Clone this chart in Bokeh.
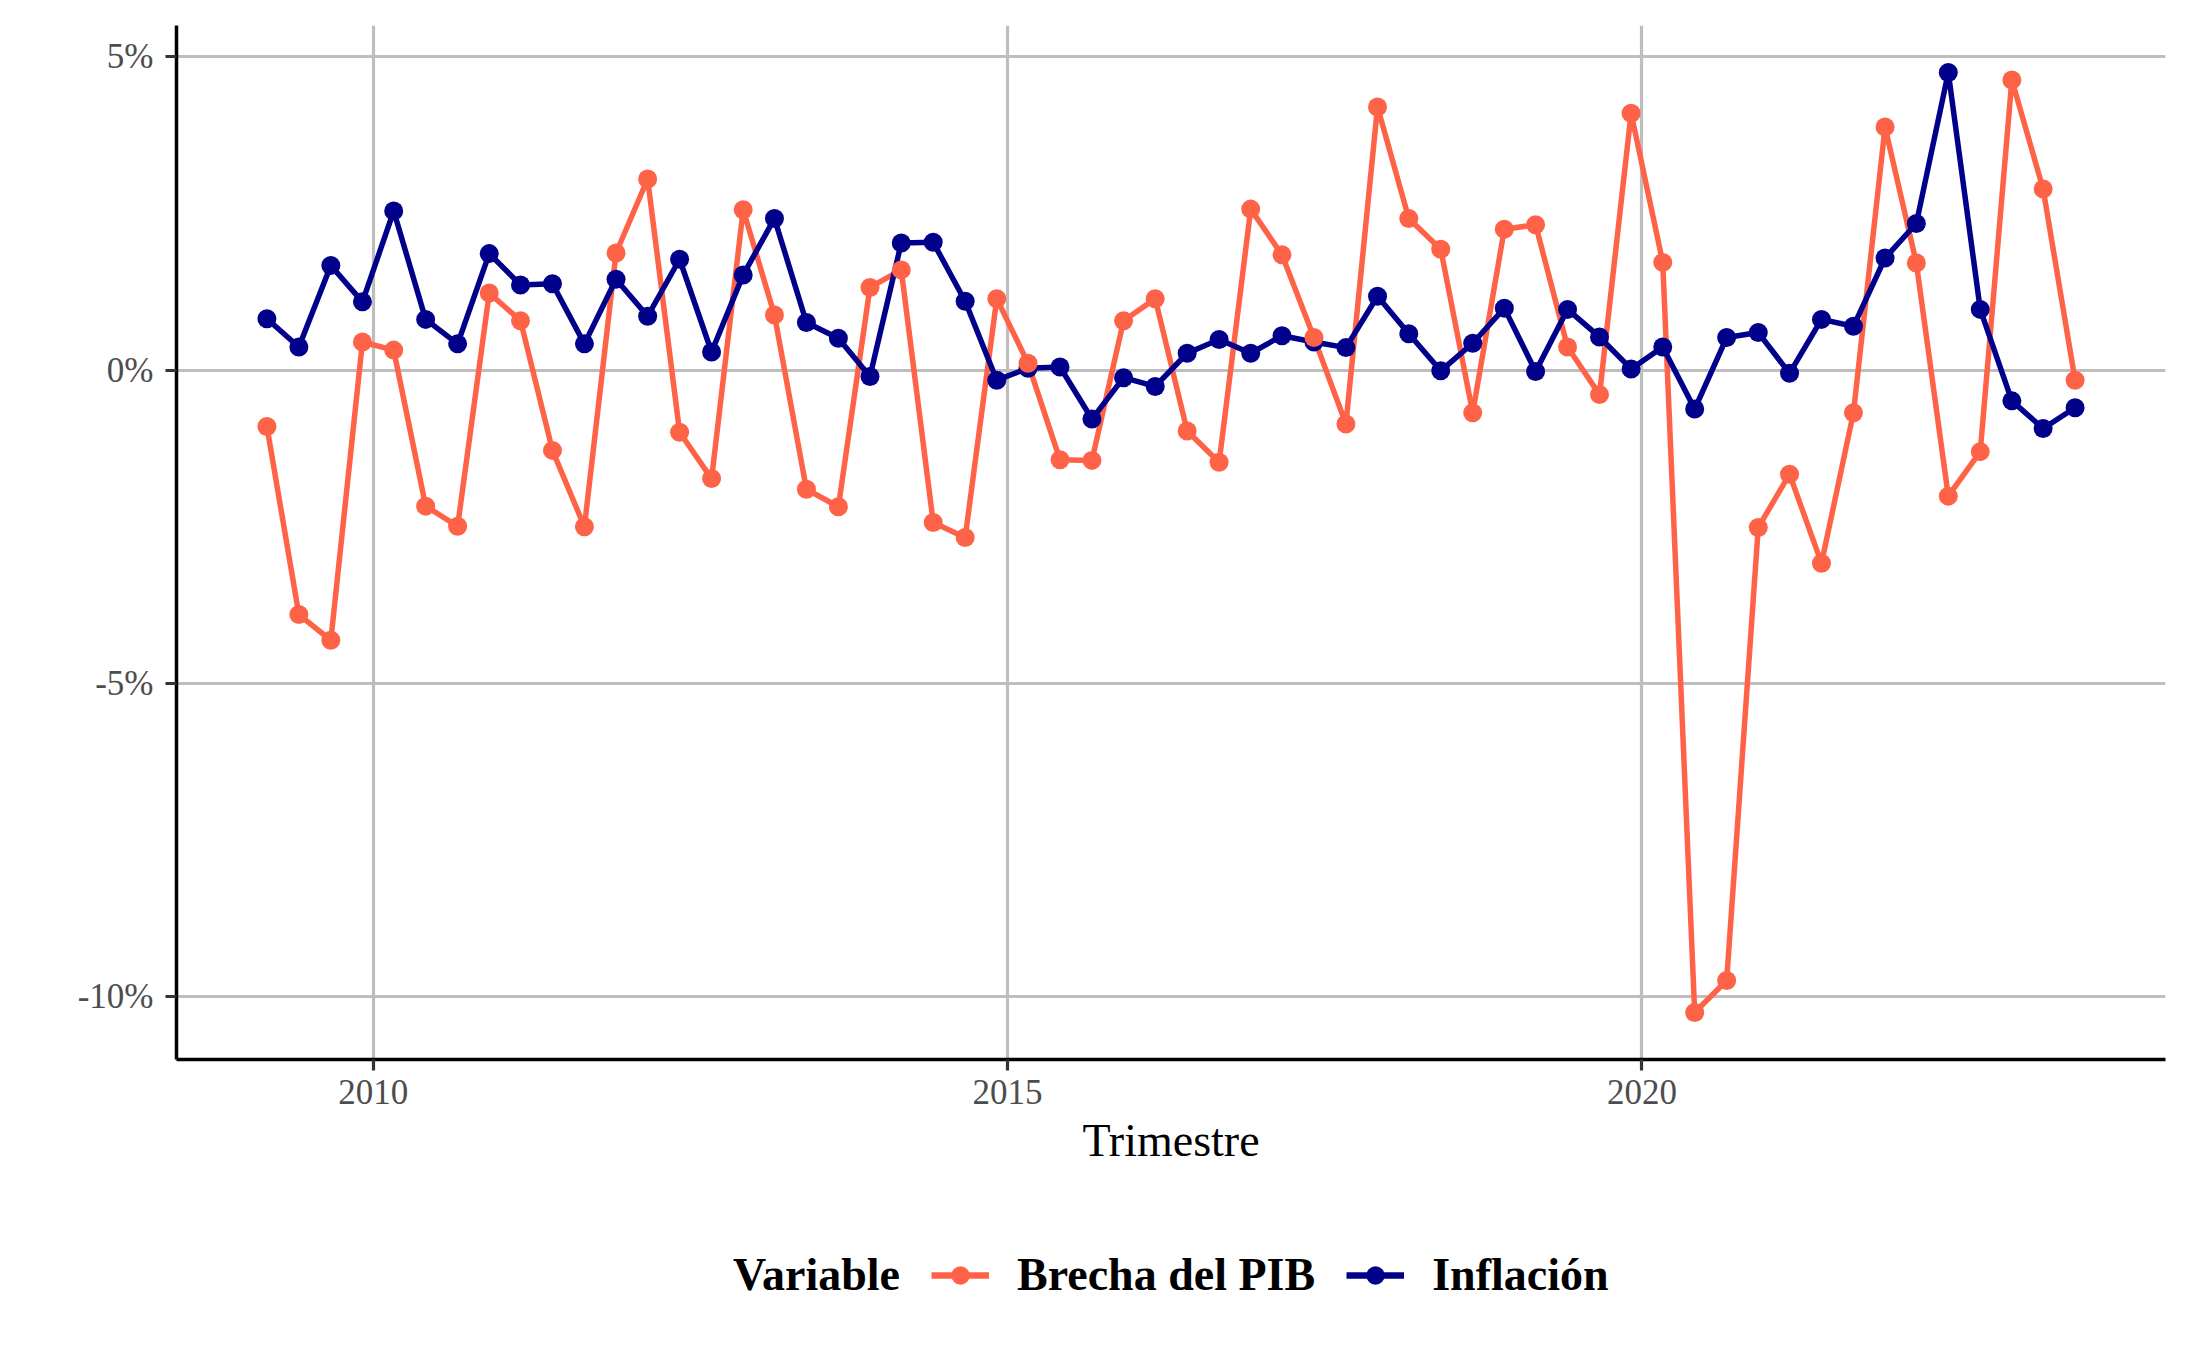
import pandas as pd
from bokeh.plotting import figure
from bokeh.layouts import column
from bokeh.models import (ColumnDataSource, Range1d, FixedTicker, DatetimeTickFormatter,
                          PrintfTickFormatter, Legend, LegendItem)
from bokeh.embed import file_html
from bokeh.resources import INLINE

# ---------------- data ----------------
trimestres = pd.date_range("2009-03-01", "2023-06-01", freq="3MS")
brecha_pib = [-0.90, -3.90, -4.31, 0.45, 0.32, -2.17, -2.49, 1.23, 0.79, -1.28,
              -2.50, 1.87, 3.05, -0.99, -1.73, 2.56, 0.88, -1.90, -2.18, 1.32,
              1.60, -2.43, -2.67, 1.14, 0.11, -1.43, -1.44, 0.79, 1.14, -0.97,
              -1.47, 2.57, 1.84, 0.52, -0.86, 4.20, 2.42, 1.93, -0.68, 2.25,
              2.32, 0.37, -0.39, 4.10, 1.72, -10.25, -9.74, -2.51, -1.66, -3.08,
              -0.68, 3.88, 1.71, -2.01, -1.30, 4.63, 2.89, -0.16]
inflacion = [0.82, 0.37, 1.67, 1.09, 2.54, 0.81, 0.42, 1.86, 1.36, 1.38,
             0.42, 1.45, 0.86, 1.77, 0.29, 1.52, 2.42, 0.76, 0.51, -0.10,
             2.03, 2.04, 1.10, -0.16, 0.03, 0.05, -0.78, -0.12, -0.26, 0.27,
             0.49, 0.27, 0.55, 0.45, 0.36, 1.18, 0.58, -0.01, 0.43, 0.99,
             -0.02, 0.97, 0.53, 0.02, 0.37, -0.62, 0.52, 0.60, -0.05, 0.81,
             0.70, 1.79, 2.34, 4.75, 0.97, -0.49, -0.93, -0.60]
legend_title = "Variable"
series_names = ["Brecha del PIB", "Inflación"]
series_colors = ["#FF6347", "#00008B"]
x_tick_years = [2010, 2015, 2020]
y_ticks = [-10, -5, 0, 5]

src = ColumnDataSource(dict(x=trimestres, brecha=brecha_pib, infl=inflacion))

# ranges with ggplot-like 5% expansion
xmin, xmax = trimestres.min(), trimestres.max()
xpad = (xmax - xmin) * 0.05
allv = brecha_pib + inflacion
ymin, ymax = min(allv), max(allv)
ypad = (ymax - ymin) * 0.05

FONT = "Liberation Serif"
LW = 5.5
PS = 19

p = figure(width=2171, height=1230, output_backend="svg", toolbar_location=None,
           x_axis_type="datetime",
           x_range=Range1d(xmin - xpad, xmax + xpad),
           y_range=Range1d(ymin - ypad, ymax + ypad),
           min_border_left=176, min_border_right=6, min_border_top=25,
           min_border_bottom=171)
p.outline_line_color = None
p.background_fill_color = "white"
p.border_fill_color = "white"

xticks_ms = [pd.Timestamp(f"{y}-01-01").value / 1e6 for y in x_tick_years]

# grid
p.xgrid.ticker = FixedTicker(ticks=xticks_ms)
p.ygrid.ticker = FixedTicker(ticks=y_ticks)
for g in (p.xgrid, p.ygrid):
    g.grid_line_color = "#bebebe"
    g.grid_line_width = 3.2

# axes
p.xaxis.ticker = FixedTicker(ticks=xticks_ms)
p.xaxis.formatter = DatetimeTickFormatter(years="%Y", months="%Y", days="%Y", hours="%Y",
                                          minutes="%Y", seconds="%Y", milliseconds="%Y",
                                          microseconds="%Y", hourmin="%Y", minsec="%Y")
p.yaxis.ticker = FixedTicker(ticks=y_ticks)
p.yaxis.formatter = PrintfTickFormatter(format="%d%%")
p.xaxis.axis_label = "Trimestre"
for ax in (p.xaxis, p.yaxis):
    ax.axis_line_color = "black"
    ax.axis_line_width = 3.5
    ax.major_tick_line_color = "#333333"
    ax.major_tick_line_width = 3.2
    ax.major_tick_out = 11
    ax.major_tick_in = 0
    ax.minor_tick_line_color = None
    ax.major_label_text_font = FONT
    ax.major_label_text_font_size = "35px"
    ax.major_label_text_color = "#4d4d4d"
    ax.axis_label_text_font = FONT
    ax.axis_label_text_font_size = "46px"
    ax.axis_label_text_font_style = "normal"
    ax.axis_label_text_color = "black"
    ax.axis_label_standoff = 8
p.yaxis.major_label_standoff = 12
p.xaxis.major_label_standoff = 9

# lines first, then points
p.line("x", "brecha", source=src, line_color=series_colors[0], line_width=LW)
p.line("x", "infl", source=src, line_color=series_colors[1], line_width=LW)
p.scatter("x", "infl", source=src, size=PS, fill_color=series_colors[1], line_color=None)
p.scatter("x", "brecha", source=src, size=PS, fill_color=series_colors[0], line_color=None)

# ---------------- legend strip (separate figure below the chart) ----------------
# Its ranges are far away from the data, so the series only feed the legend swatches.
q = figure(width=2171, height=105, output_backend="svg", toolbar_location=None,
           x_axis_type=None, y_axis_type=None,
           x_range=Range1d(0, 1), y_range=Range1d(0, 1),
           min_border_left=0, min_border_right=0, min_border_top=0, min_border_bottom=0)
q.outline_line_color = None
q.background_fill_color = "white"
q.border_fill_color = "white"

k_title = q.scatter("x", "brecha", source=src, size=PS, fill_alpha=0, line_alpha=0)
k_l1 = q.line("x", "brecha", source=src, line_color=series_colors[0], line_width=6.5)
k_p1 = q.scatter("x", "brecha", source=src, size=PS, fill_color=series_colors[0], line_color=None)
k_l2 = q.line("x", "infl", source=src, line_color=series_colors[1], line_width=6.5)
k_p2 = q.scatter("x", "infl", source=src, size=PS, fill_color=series_colors[1], line_color=None)

legend = Legend(items=[LegendItem(label=legend_title, renderers=[k_title]),
                       LegendItem(label=series_names[0], renderers=[k_l1, k_p1]),
                       LegendItem(label=series_names[1], renderers=[k_l2, k_p2])],
                orientation="horizontal", location=(471, 34))
legend.label_text_font = FONT
legend.label_text_font_size = "46px"
legend.label_text_font_style = "bold"
legend.label_text_color = "black"
legend.label_standoff = 28
legend.glyph_width = 58
legend.glyph_height = 46
legend.spacing = 31
legend.padding = 10
legend.margin = 0
legend.border_line_color = None
legend.background_fill_alpha = 0
q.add_layout(legend)

layout = column(p, q, spacing=0)
open("out.html", "w").write(file_html(layout, INLINE))
